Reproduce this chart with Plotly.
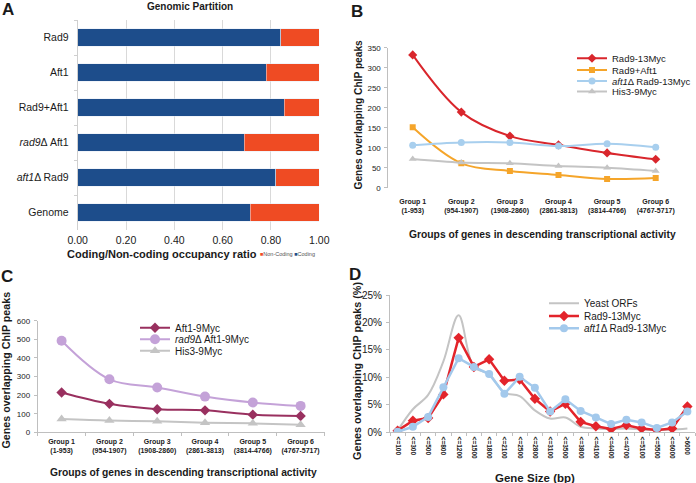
import plotly.graph_objects as go

W, H = 696, 483
def px(x): return x / W
def py(y): return 1 - y / H

FONT = "Arial, 'Liberation Sans', Helvetica, sans-serif"
TXT = "#1a1a1a"
AX = "#BFBFBF"

# ---------------- Panel A data ----------------
a_categories = ["Rad9", "Aft1", "Rad9+Aft1", "rad9Δ Aft1", "aft1Δ Rad9", "Genome"]
a_ticklabels = ["Rad9", "Aft1", "Rad9+Aft1", "<i>rad9</i>Δ Aft1", "<i>aft1</i>Δ Rad9", "Genome"]
a_coding = [0.84, 0.78, 0.855, 0.69, 0.82, 0.715]
a_noncoding = [0.16, 0.22, 0.145, 0.31, 0.18, 0.285]

# ---------------- Panel B data ----------------
b_groups = ["Group 1<br>(1-953)", "Group 2<br>(954-1907)", "Group 3<br>(1908-2860)",
            "Group 4<br>(2861-3813)", "Group 5<br>(3814-4766)", "Group 6<br>(4767-5717)"]
b_rad9_13myc = [332, 189, 129, 107, 87, 71]
b_rad9_aft1 = [151, 61, 42, 32, 22, 24]
b_aft1d_rad9_13myc = [106, 113, 113, 104, 110, 101]
b_his3_9myc = [72, 63, 61, 54, 50, 42]

# ---------------- Panel C data ----------------
c_groups = b_groups
c_aft1_9myc = [214, 153, 124, 118, 95, 88]
c_rad9d_aft1_9myc = [492, 285, 241, 192, 160, 142]
c_his3_9myc = [71, 63, 59, 52, 48, 41]

# ---------------- Panel D data ----------------
d_sizes = ["<=100", "<=300", "<=500", "<=800", "<=1200", "<=1500", "<=1800", "<=2100",
           "<=2500", "<=2800", "<=3100", "<=3500", "<=3800", "<=4100", "<=4400",
           "<=4700", "<=5100", "<=5500", "<=6000", ">6000"]
d_yeast_orfs = [0.3, 4.2, 6.8, 12.9, 21.3, 11.9, 10.6, 7.2, 6.6, 4.0, 2.5, 2.7, 1.0, 0.7,
                0.6, 0.7, 0.5, 0.4, 0.5, 0.7]
d_rad9_13myc = [0.3, 2.1, 2.6, 6.9, 17.2, 11.9, 13.3, 9.4, 9.6, 6.1, 3.8, 5.2, 1.9, 1.1,
                0.6, 1.3, 0.7, 0.4, 0.7, 4.7]
d_aft1d_rad9_13myc = [0.1, 1.0, 2.8, 8.2, 13.5, 11.9, 10.6, 7.0, 10.1, 8.1, 3.8, 6.0, 3.9,
                      2.7, 1.5, 2.3, 1.8, 0.8, 1.8, 3.8]

BLUE_A = "#1D4D8B"
ORANGE_A = "#EF4B23"
RED = "#D9262C"
ORANGE = "#F5A52A"
LBLUE = "#A8CFEE"
GRAY = "#C4C4C4"
MAGENTA = "#99305F"
LAVENDER = "#C4A2D8"

fig = go.Figure()

# Panel A
fig.add_trace(go.Bar(y=a_categories, x=a_coding, orientation="h", marker_color=BLUE_A,
                     name="Coding", showlegend=False, xaxis="x", yaxis="y"))
fig.add_trace(go.Bar(y=a_categories, x=a_noncoding, orientation="h", marker_color=ORANGE_A,
                     name="Non-Coding", showlegend=False, xaxis="x", yaxis="y"))

# Panel B
b_specs = [
    ("Rad9-13Myc", b_rad9_13myc, RED, "diamond", 7, "legend2"),
    ("Rad9+Aft1", b_rad9_aft1, ORANGE, "square", 6, "legend3"),
    ("<i>aft1</i>Δ Rad9-13Myc", b_aft1d_rad9_13myc, LBLUE, "circle", 7, "legend4"),
    ("His3-9Myc", b_his3_9myc, GRAY, "triangle-up", 7, "legend5"),
]
for name, vals, col, sym, sz, lg in b_specs:
    fig.add_trace(go.Scatter(x=b_groups, y=vals, name=name, mode="lines+markers",
                             line=dict(color=col, width=2, shape="spline", smoothing=1),
                             marker=dict(color=col, symbol=sym, size=sz),
                             xaxis="x2", yaxis="y2", legend=lg))

# Panel C
c_specs = [
    ("Aft1-9Myc", c_aft1_9myc, MAGENTA, "diamond", 8, "legend6"),
    ("<i>rad9</i>Δ Aft1-9Myc", c_rad9d_aft1_9myc, LAVENDER, "circle", 10, "legend7"),
    ("His3-9Myc", c_his3_9myc, GRAY, "triangle-up", 9, "legend8"),
]
for name, vals, col, sym, sz, lg in c_specs:
    fig.add_trace(go.Scatter(x=c_groups, y=vals, name=name, mode="lines+markers",
                             line=dict(color=col, width=2, shape="spline", smoothing=1),
                             marker=dict(color=col, symbol=sym, size=sz),
                             xaxis="x3", yaxis="y3", legend=lg))

# Panel D
fig.add_trace(go.Scatter(x=d_sizes, y=d_yeast_orfs, name="Yeast ORFs", mode="lines",
                         line=dict(color=GRAY, width=2, shape="spline", smoothing=1),
                         xaxis="x4", yaxis="y4", legend="legend9"))
fig.add_trace(go.Scatter(x=d_sizes, y=d_rad9_13myc, name="Rad9-13Myc", mode="lines+markers",
                         line=dict(color="#E3242B", width=2.5),
                         marker=dict(color="#E3242B", symbol="diamond", size=8),
                         xaxis="x4", yaxis="y4", legend="legend10"))
fig.add_trace(go.Scatter(x=d_sizes, y=d_aft1d_rad9_13myc, name="<i>aft1</i>Δ Rad9-13Myc",
                         mode="lines+markers",
                         line=dict(color="#A3C9EC", width=2.5),
                         marker=dict(color="#A3C9EC", symbol="circle", size=8),
                         xaxis="x4", yaxis="y4", legend="legend11"))

tick_small = dict(family=FONT, size=7, color=TXT, weight="bold")

layout = dict(
    width=W, height=H, margin=dict(l=0, r=0, t=0, b=0, pad=0, autoexpand=False),
    autosize=False,
    paper_bgcolor="white", plot_bgcolor="white",
    font=dict(family=FONT, color=TXT),
    barmode="stack", bargap=0.486,
    showlegend=True,
    # A
    xaxis=dict(domain=[px(77.7), px(319.3)], anchor="y", range=[0, 1], dtick=0.2,
               tickformat=".2f", showgrid=True, gridcolor="#D9D9D9", gridwidth=1,
               zeroline=False, showline=False, ticks="", ticklabelstandoff=2,
               automargin=False,
               tickfont=dict(family=FONT, size=10.5, color=TXT)),
    yaxis=dict(domain=[py(230), py(20)], anchor="x", type="category",
               categoryorder="array", categoryarray=a_categories, autorange="reversed",
               tickvals=a_categories, ticktext=a_ticklabels,
               showline=True, linecolor="#CFCFCF", linewidth=1,
               ticks="outside", tickson="boundaries", ticklen=3, tickcolor="#CFCFCF",
               ticklabelstandoff=6, showgrid=False, zeroline=False, automargin=False,
               tickfont=dict(family=FONT, size=10.5, color=TXT)),
    # B
    xaxis2=dict(domain=[px(388.4), px(680)], anchor="y2", type="category",
                range=[-0.5, 5.5], showline=False, ticks="", showgrid=False,
                zeroline=False, ticklabelstandoff=8, tickangle=0, automargin=False,
                tickfont=tick_small),
    yaxis2=dict(domain=[py(187.7), py(47.7)], anchor="x2", range=[0, 350], dtick=50,
                showline=True, linecolor=AX, linewidth=1, ticks="outside", ticklen=3,
                tickcolor=AX, showgrid=False, zeroline=False, ticklabelstandoff=2,
                automargin=False, tickfont=dict(family=FONT, size=8, color=TXT)),
    # C
    xaxis3=dict(domain=[px(37.7), px(324.5)], anchor="y3", type="category",
                range=[-0.5, 5.5], showline=True, linecolor=AX, linewidth=1,
                ticks="outside", tickson="boundaries", ticklen=3, tickcolor=AX,
                showgrid=False, zeroline=False, ticklabelstandoff=2, tickangle=0,
                automargin=False, tickfont=tick_small),
    yaxis3=dict(domain=[py(432.3), py(320.7)], anchor="x3", range=[0, 600], dtick=100,
                showline=True, linecolor=AX, linewidth=1, ticks="outside", ticklen=3,
                tickcolor=AX, showgrid=False, zeroline=False, ticklabelstandoff=2,
                automargin=False, tickfont=dict(family=FONT, size=8, color=TXT)),
    # D
    xaxis4=dict(domain=[px(390), px(695)], anchor="y4", type="category",
                range=[-0.5, 19.5], tickvals=d_sizes,
                ticktext=[s.replace("<", "&lt;").replace(">", "&gt;") for s in d_sizes],
                tickangle=90, showline=True, linecolor=AX, linewidth=1,
                ticks="outside", tickson="boundaries", ticklen=3, tickcolor=AX,
                showgrid=False, zeroline=False, ticklabelstandoff=2, automargin=False,
                tickfont=dict(family=FONT, size=6.5, color=TXT, weight="bold")),
    yaxis4=dict(domain=[py(432.3), py(295)], anchor="x4", range=[0, 25], dtick=5,
                ticksuffix="%", showline=True, linecolor=AX, linewidth=1,
                ticks="outside", ticklen=3, tickcolor=AX, showgrid=False, zeroline=False,
                ticklabelstandoff=2, automargin=False,
                tickfont=dict(family=FONT, size=10, color=TXT)),
)

def leg(x_text, y_mid, size):
    return dict(x=px(x_text - 41), y=py(y_mid), xanchor="left", yanchor="middle",
                bgcolor="rgba(0,0,0,0)", borderwidth=0, itemwidth=30,
                font=dict(family=FONT, size=size, color=TXT))

layout["legend2"] = leg(613, 58.3, 9.5)
layout["legend3"] = leg(613, 70, 9.5)
layout["legend4"] = leg(613, 81, 9.5)
layout["legend5"] = leg(613, 91.5, 9.5)
layout["legend6"] = leg(176, 327.7, 10)
layout["legend7"] = leg(176, 339.3, 10)
layout["legend8"] = leg(176, 350.7, 10)
layout["legend9"] = leg(585, 303.3, 10)
layout["legend10"] = leg(585, 316, 10)
layout["legend11"] = leg(585, 328.3, 10)
layout["legend"] = dict(visible=False)

fig.update_layout(**layout)

def ann(text, x, y, size, bold=True, angle=0, xanchor="center", color=TXT):
    fig.add_annotation(text=text, x=px(x), y=py(y), xref="paper", yref="paper",
                       showarrow=False, textangle=angle, xanchor=xanchor, yanchor="middle",
                       font=dict(family=FONT, size=size, color=color,
                                 weight="bold" if bold else "normal"))

# Panel letters
ann("A", 8, 10, 17)
ann("B", 357, 11, 17)
ann("C", 7, 276, 17)
ann("D", 355, 274, 17)

# Panel A titles
ann("Genomic Partition", 190, 7, 10)
ann("Coding/Non-coding occupancy ratio", 162, 254, 11)
ann("<span style='color:%s'>■</span>Non-Coding <span style='color:%s'>■</span>Coding"
    % (ORANGE_A, BLUE_A), 258, 254, 5.5, bold=False, xanchor="left", color="#555555")

# Panel B titles
ann("Genes overlapping ChIP peaks", 357.5, 115, 10.2, angle=-90)
ann("Groups of genes in descending transcriptional activity", 542.7, 234.5, 10.3)

# Panel C titles
ann("Genes overlapping ChIP peaks", 5.5, 370, 10.7, angle=-90)
ann("Groups of genes in descending transcriptional activity", 183, 472, 10.3)

# Panel D titles
ann("Genes overlapping ChIP peaks (%)", 357, 371, 10.8, angle=-90)
ann("Gene Size (bp)", 535, 477.5, 11.5)

fig.write_html(
    "out.html",
    config={"displayModeBar": False},
    post_script="document.body.style.margin='0px';document.body.style.padding='0px';"
                "document.documentElement.style.overflow='hidden';",
)
